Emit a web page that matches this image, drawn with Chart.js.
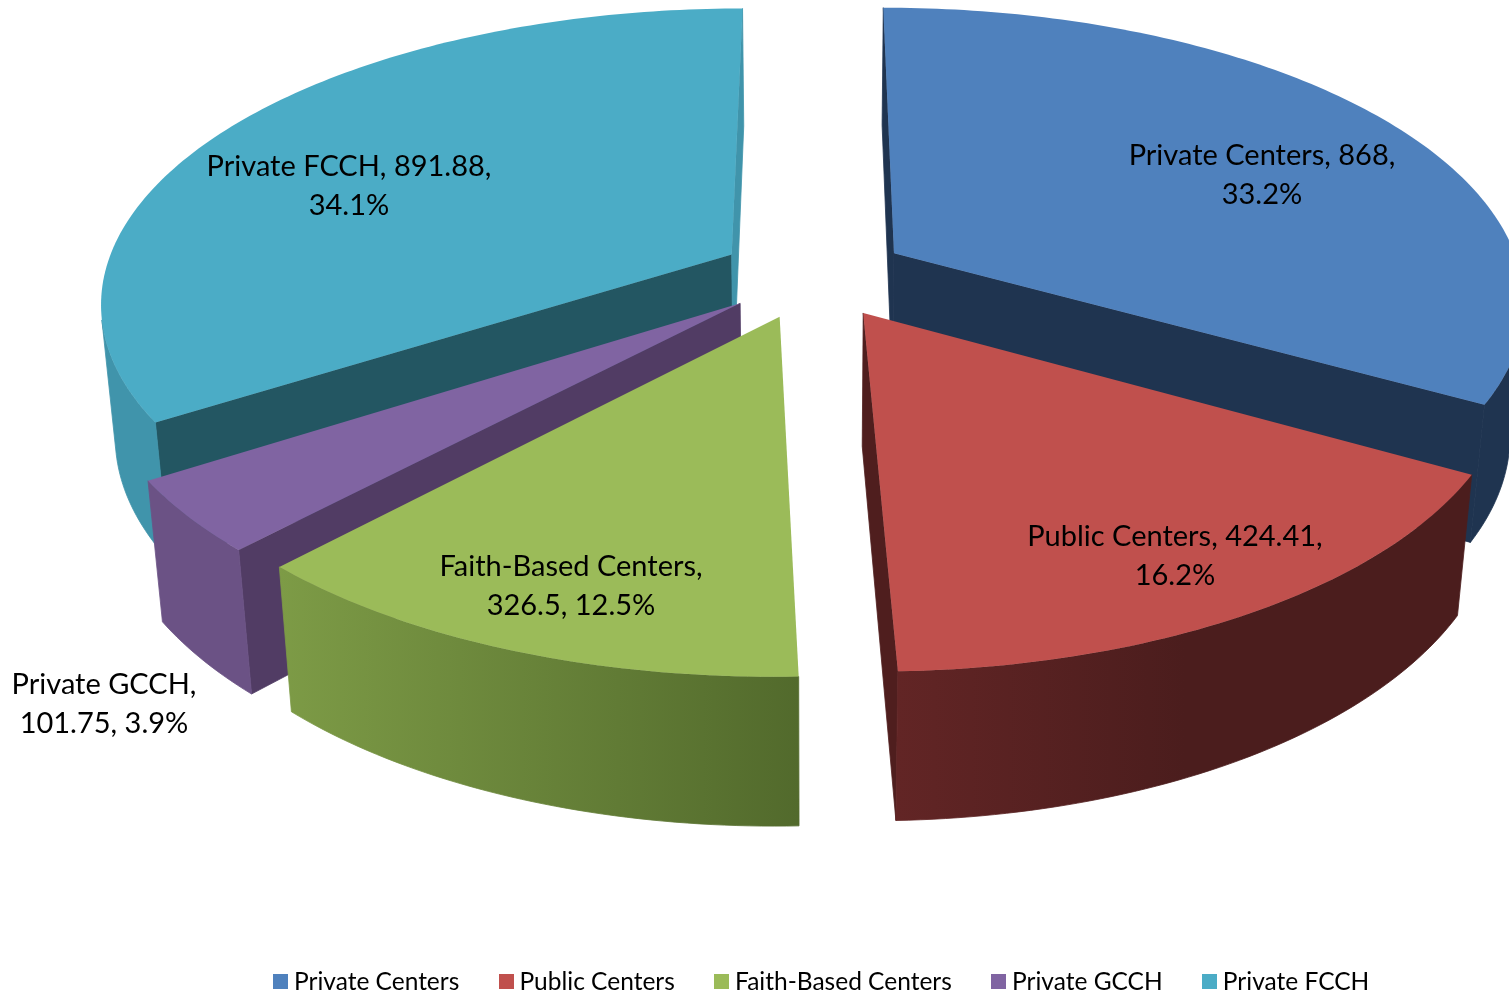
<!DOCTYPE html>
<html><head><meta charset="utf-8">
<style>html,body{margin:0;padding:0;background:#fff;overflow:hidden}#w{width:1509px;height:995px;position:relative}</style>
<script src="https://cdn.jsdelivr.net/npm/chart.js@4"></script>
</head><body><div id="w"><canvas id="c"></canvas></div>
<script>
const categories = ['Private Centers','Public Centers','Faith-Based Centers','Private GCCH','Private FCCH'];
const values = [868, 424.41, 326.5, 101.75, 891.88];
const percents = ['33.2%','16.2%','12.5%','3.9%','34.1%'];
const labelLines = [
  ['Private Centers, 868,','33.2%'],
  ['Public Centers, 424.41,','16.2%'],
  ['Faith-Based Centers,','326.5, 12.5%'],
  ['Private GCCH,','101.75, 3.9%'],
  ['Private FCCH, 891.88,','34.1%']
];
const topColors = ['#4f81bd','#c0504d','#9bbb59','#8064a2','#4bacc6'];
const wallStart = ['#1f3450','#4b1d1d','#526a2c','#6b5285','#4094ab'];
const wallEnd   = ['#1f3450','#622525','#7d9b46','#6b5285','#4094ab'];
const wallFlat  = [0,0.5,0,0,0];
const innerStart = ['#1f3450','#4f1e1e','#546a2c','#513c64','#235662'];
const innerEnd   = ['#1f3450','#4f1e1e','#546a2c','#513c64','#4094ab'];

const view = {cx:813.5, cy:275, sx:628, sy:290, k:0.155, m:0.02, h:134, explode:0.15};
const drawOrder = [4,0,3,2,1];
const labelCentres = [[1262,175.5],[1175,556],[571,586],[104,704],[349,186]];
const legendShift = {x:70, y:9};

function project(X,Y,z){
  const w = 1 - view.k*Y + view.m*z;
  return [view.cx + view.sx*X/w, view.cy + (view.sy*Y + view.h*z)/w];
}
function area(p){let s=0;for(let i=0;i<p.length;i++){const a=p[i],b=p[(i+1)%p.length];s+=a[0]*b[1]-b[0]*a[1];}return s;}
function poly(ctx,p,col,stroke){
  ctx.beginPath();p.forEach((q,i)=>i?ctx.lineTo(q[0],q[1]):ctx.moveTo(q[0],q[1]));ctx.closePath();
  ctx.fillStyle=col;ctx.fill();
  if(stroke){ctx.strokeStyle=col;ctx.lineWidth=0.8;ctx.lineJoin='round';ctx.stroke();}
}
const pie3d = {
  id:'pie3d',
  beforeDatasetsDraw(chart){
    const ctx = chart.ctx, meta = chart.getDatasetMeta(0);
    ctx.save();
    drawOrder.forEach(i=>{
      const el = meta.data[i];
      const a0 = el.startAngle + Math.PI/2, a1 = el.endAngle + Math.PI/2, mid=(a0+a1)/2;
      const ox = Math.sin(mid)*view.explode, oy = -Math.cos(mid)*view.explode;
      const n = Math.max(8,Math.round((a1-a0)*60));
      const ring=[[ox,oy]];
      for(let j=0;j<=n;j++){const t=a0+(a1-a0)*j/n;ring.push([ox+Math.sin(t),oy-Math.cos(t)]);}
      const top=ring.map(q=>project(q[0],q[1],0)), bot=ring.map(q=>project(q[0],q[1],1));
      const visible=(a,b)=>area([top[a],top[b],bot[b],bot[a]])<0;
      if(visible(0,1)) poly(ctx,[top[0],top[1],bot[1],bot[0]],innerStart[i],true);
      if(visible(n+1,0)) poly(ctx,[top[n+1],top[0],bot[0],bot[n+1]],innerEnd[i],true);
      let j=1;
      while(j<=n){
        if(!visible(j,j+1)){j++;continue;}
        let e=j;while(e<=n && visible(e,e+1))e++;
        const up=[],down=[];
        for(let q=j;q<=e;q++){up.push(top[q]);down.unshift(bot[q]);}
        const xs=up.map(p=>p[0]);
        const g=ctx.createLinearGradient(Math.min(...xs),0,Math.max(...xs),0);
        const rightIsStart = up[0][0]>up[up.length-1][0];
        const cL=rightIsStart?wallEnd[i]:wallStart[i], cR=rightIsStart?wallStart[i]:wallEnd[i];
        g.addColorStop(0,cL);
        if(wallFlat[i]>0) g.addColorStop(wallFlat[i],cR);
        g.addColorStop(1,cR);
        poly(ctx,up.concat(down),g,true);
        j=e+1;
      }
      poly(ctx,top,topColors[i],false);
    });
    ctx.restore();
    return false;
  },
  afterDraw(chart){
    const ctx=chart.ctx;
    ctx.save();
    ctx.font='29px Lato';ctx.fillStyle='#000';ctx.textAlign='center';ctx.textBaseline='middle';
    labelLines.forEach((ls,i)=>{
      const [x,y]=labelCentres[i];
      ls.forEach((s,j)=>ctx.fillText(s,x,y+(j-(ls.length-1)/2)*39));
    });
    ctx.restore();
  },
  afterLayout(chart){
    const l=chart.legend;
    l.top+=legendShift.y;l.bottom+=legendShift.y;l.left+=legendShift.x;l.right+=legendShift.x;
  }
};
function swatch(col){
  const s=document.createElement('canvas');s.width=15;s.height=15;
  const g=s.getContext('2d');g.fillStyle=col;g.fillRect(0,0,15,15);return s;
}
Chart.defaults.animation=false;
new Chart(document.getElementById('c'),{
  type:'pie',
  data:{labels:categories,datasets:[{data:values,backgroundColor:topColors,borderWidth:0}]},
  options:{
    responsive:true,maintainAspectRatio:false,animation:false,
    layout:{padding:0},
    plugins:{
      tooltip:{enabled:false},
      legend:{position:'bottom',labels:{
        usePointStyle:true,pointStyleWidth:2,boxHeight:15,padding:46,
        font:{family:'Lato',size:24.5},color:'#000',
        generateLabels(chart){
          return Chart.controllers.doughnut.overrides.plugins.legend.labels.generateLabels(chart)
            .map((l,i)=>Object.assign(l,{pointStyle:swatch(topColors[i])}));
        }
      }}
    }
  },
  plugins:[pie3d]
});
</script></body></html>
